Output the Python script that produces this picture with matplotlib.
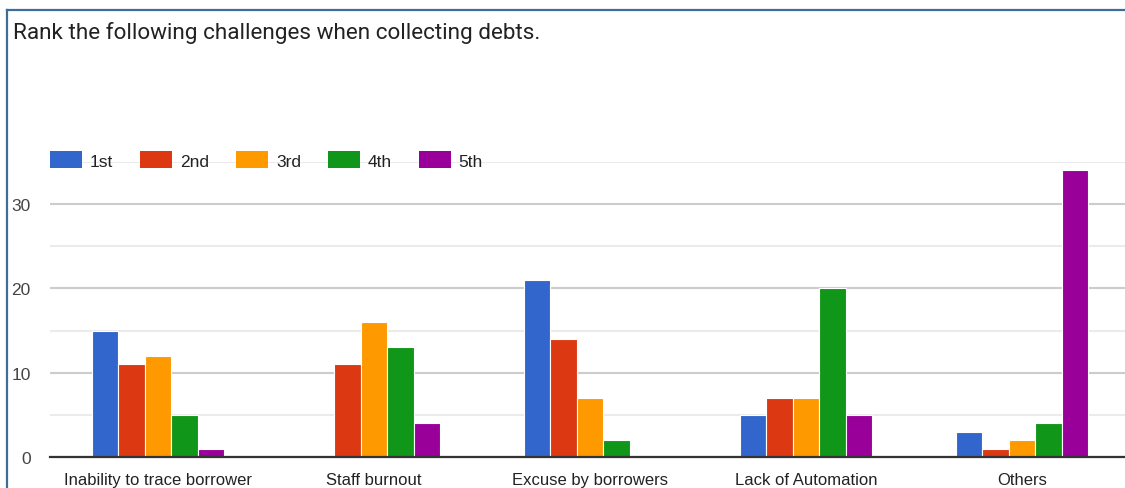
import matplotlib.pyplot as plt
import numpy as np
from matplotlib.lines import Line2D
from matplotlib.patches import Patch

challenges = ['Inability to trace borrower', 'Staff burnout', 'Excuse by borrowers',
              'Lack of Automation', 'Others']
ranks = ['1st', '2nd', '3rd', '4th', '5th']
first = [15, 0, 21, 5, 3]
second = [11, 11, 14, 7, 1]
third = [12, 16, 7, 7, 2]
fourth = [5, 13, 2, 20, 4]
fifth = [1, 4, 0, 5, 34]
colors = ['#3366cc', '#dc3912', '#ff9900', '#109618', '#990099']

plt.rcParams['font.family'] = ['Liberation Sans', 'DejaVu Sans']

fig = plt.figure(figsize=(11.25, 4.89), dpi=100)
ax = fig.add_axes([50 / 1125, 1 - 458 / 489, 1080 / 1125, 295 / 489])

x = np.arange(len(challenges))
w = 0.1227
series = [first, second, third, fourth, fifth]
for i, vals in enumerate(series):
    ax.bar(x + (i - 2) * w, vals, w, color=colors[i], edgecolor='white',
           linewidth=0.8, zorder=3, label=ranks[i])

ax.set_xlim(-0.5, 4.5)
ax.set_ylim(0, 35)
ax.set_yticks([0, 10, 20, 30])
ax.set_yticks([5, 15, 25, 35], minor=True)
ax.grid(axis='y', which='major', color='#cccccc', linewidth=1.5, zorder=0)
ax.grid(axis='y', which='minor', color='#ebebeb', linewidth=1.5, zorder=0)
ax.set_xticks(x)
ax.set_xticklabels(challenges)
ax.tick_params(axis='both', which='both', length=0, labelsize=12, colors='#222222')
ax.tick_params(axis='y', pad=14, labelsize=12.5, labelcolor='#444444')
ax.tick_params(axis='x', pad=11)
for s in ['top', 'right', 'left']:
    ax.spines[s].set_visible(False)
ax.spines['bottom'].set_color('#333333')
ax.spines['bottom'].set_linewidth(1.6)
ax.spines['bottom'].set_zorder(4)

handles = [Patch(facecolor=c, edgecolor='none') for c in colors]
fig.legend(handles, ranks, loc='center left', bbox_to_anchor=(50 / 1125, 1 - 161 / 489),
           ncol=5, frameon=False, fontsize=12.5, handlelength=1.84, handleheight=1.1,
           handletextpad=0.46, columnspacing=1.55, borderpad=0, borderaxespad=0,
           labelcolor='#222222')

fig.text(13 / 1125, 1 - 33 / 489, 'Rank the following challenges when collecting debts.',
         fontsize=16.2, family=['Roboto', 'DejaVu Sans'], color='#222222', va='center')

frame_color = '#3b6e98'
fig.add_artist(Line2D([7 / 1125, 1], [1 - 11 / 489, 1 - 11 / 489], color=frame_color,
                      linewidth=1.6, transform=fig.transFigure))
fig.add_artist(Line2D([7 / 1125, 7 / 1125], [1 - 11 / 489, 0], color=frame_color,
                      linewidth=1.6, transform=fig.transFigure))

fig.savefig('out.png', dpi=100)
